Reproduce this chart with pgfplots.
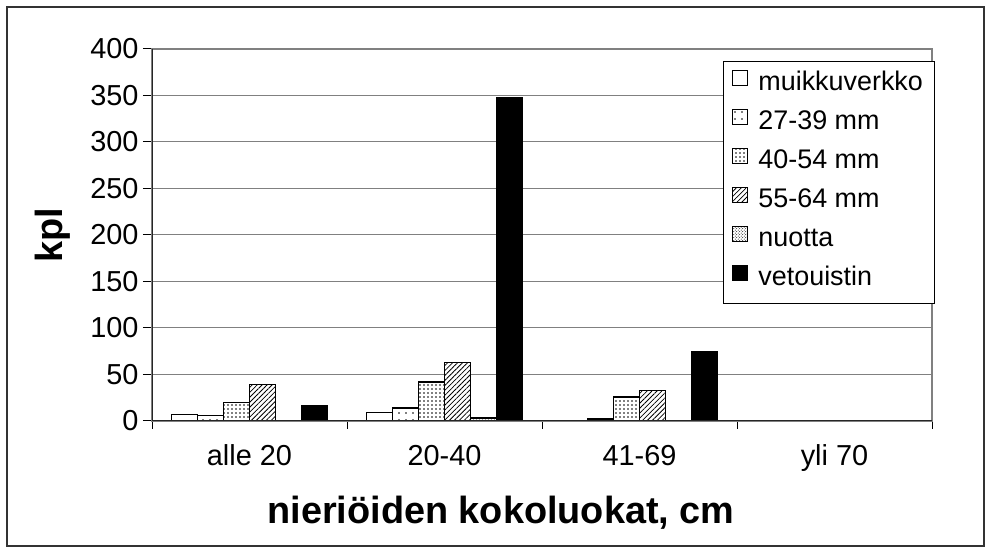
\documentclass[border=0pt]{standalone}
\usepackage{fontspec}
\setmainfont{Liberation Sans}
\usepackage{pgfplots}
\pgfplotsset{compat=1.18}
\usetikzlibrary{patterns,patterns.meta}
\pgfplotsset{sqleg/.style={legend image code/.code={%
    \draw[##1, line width=1bp] (0bp,-1bp) rectangle (15bp,14bp);}}}

\begin{document}
\begin{tikzpicture}
\useasboundingbox (0,0) rectangle (990bp,553bp);
\draw[line width=1.3bp, black!80] (7bp,7bp) rectangle (984bp,546bp);
\begin{axis}[
    at={(152bp,132bp)}, anchor=south west,
    width=780bp, height=372bp, scale only axis,
    ybar=0pt, bar width=26bp,
    xmin=-0.5, xmax=3.5, ymin=0, ymax=400,
    xtick={0,1,2,3},
    xticklabels={alle 20,20-40,41-69,yli 70},
    minor xtick={-0.5,0.5,1.5,2.5,3.5},
    major x tick style={draw=none},
    minor x tick style={black, line width=1bp},
    minor tick length=8bp,
    ytick={0,50,...,400},
    ytick style={black, line width=1bp},
    major tick length=9bp,
    tick align=outside,
    xtick pos=bottom, ytick pos=left,
    ymajorgrids,
    grid style={gray, line width=1bp},
    axis line style={gray, line width=1.2bp},
    /pgf/number format/assume math mode=true,
    tick label style={font=\fontsize{29}{34}\selectfont},
    xticklabel style={anchor=base, yshift=-36bp},
    yticklabel style={xshift=-1bp},
    every axis x label/.style={at={(axis description cs:0.5,0)}, xshift=-41bp, yshift=-92bp, anchor=center},
    every axis y label/.style={at={(axis description cs:0,0.5)}, xshift=-99bp, rotate=90, anchor=center},
    label style={font=\fontsize{38}{42}\selectfont\bfseries},
    xlabel={nieriöiden kokoluokat, cm},
    ylabel={kpl},
    legend style={at={(axis description cs:0.732,0.968)}, anchor=north west,
        draw=black, line width=1bp, fill=white, inner xsep=9bp, inner ysep=4bp,
        font=\fontsize{27}{32}\selectfont,
        nodes={inner sep=3bp, text height=22bp, text depth=11bp},
        row sep=0pt, column sep=0pt},
    legend cell align=left,
    every axis plot/.append style={draw=black, line width=1.5bp},
]
\addplot[fill=white, sqleg] coordinates {(0,7) (1,9)};
\addlegendentry{\hspace*{7bp}muikkuverkko}
\addplot[fill=white, postaction={pattern={Dots[distance=7bp, radius=0.9bp]}}, sqleg] coordinates {(0,6) (1,14) (2,2)};
\addlegendentry{\hspace*{7bp}27-39 mm}
\addplot[fill=white, postaction={pattern={Dots[distance=4bp, radius=0.8bp]}}, sqleg] coordinates {(0,20) (1,42) (2,26)};
\addlegendentry{\hspace*{7bp}40-54 mm}
\addplot[fill=white, postaction={pattern={Lines[angle=45, distance=3.5bp, line width=0.8bp]}}, sqleg] coordinates {(0,39) (1,63) (2,33)};
\addlegendentry{\hspace*{7bp}55-64 mm}
\addplot[fill=white, postaction={pattern=crosshatch dots}, sqleg] coordinates {(1,3)};
\addlegendentry{\hspace*{7bp}nuotta}
\addplot[fill=black, sqleg] coordinates {(0,16) (1,348) (2,74)};
\addlegendentry{\hspace*{7bp}vetouistin}
\draw[black!85, line width=1.2bp] (rel axis cs:0,1) -- (rel axis cs:0,0) -- (rel axis cs:1,0);
\end{axis}
\end{tikzpicture}
\end{document}
